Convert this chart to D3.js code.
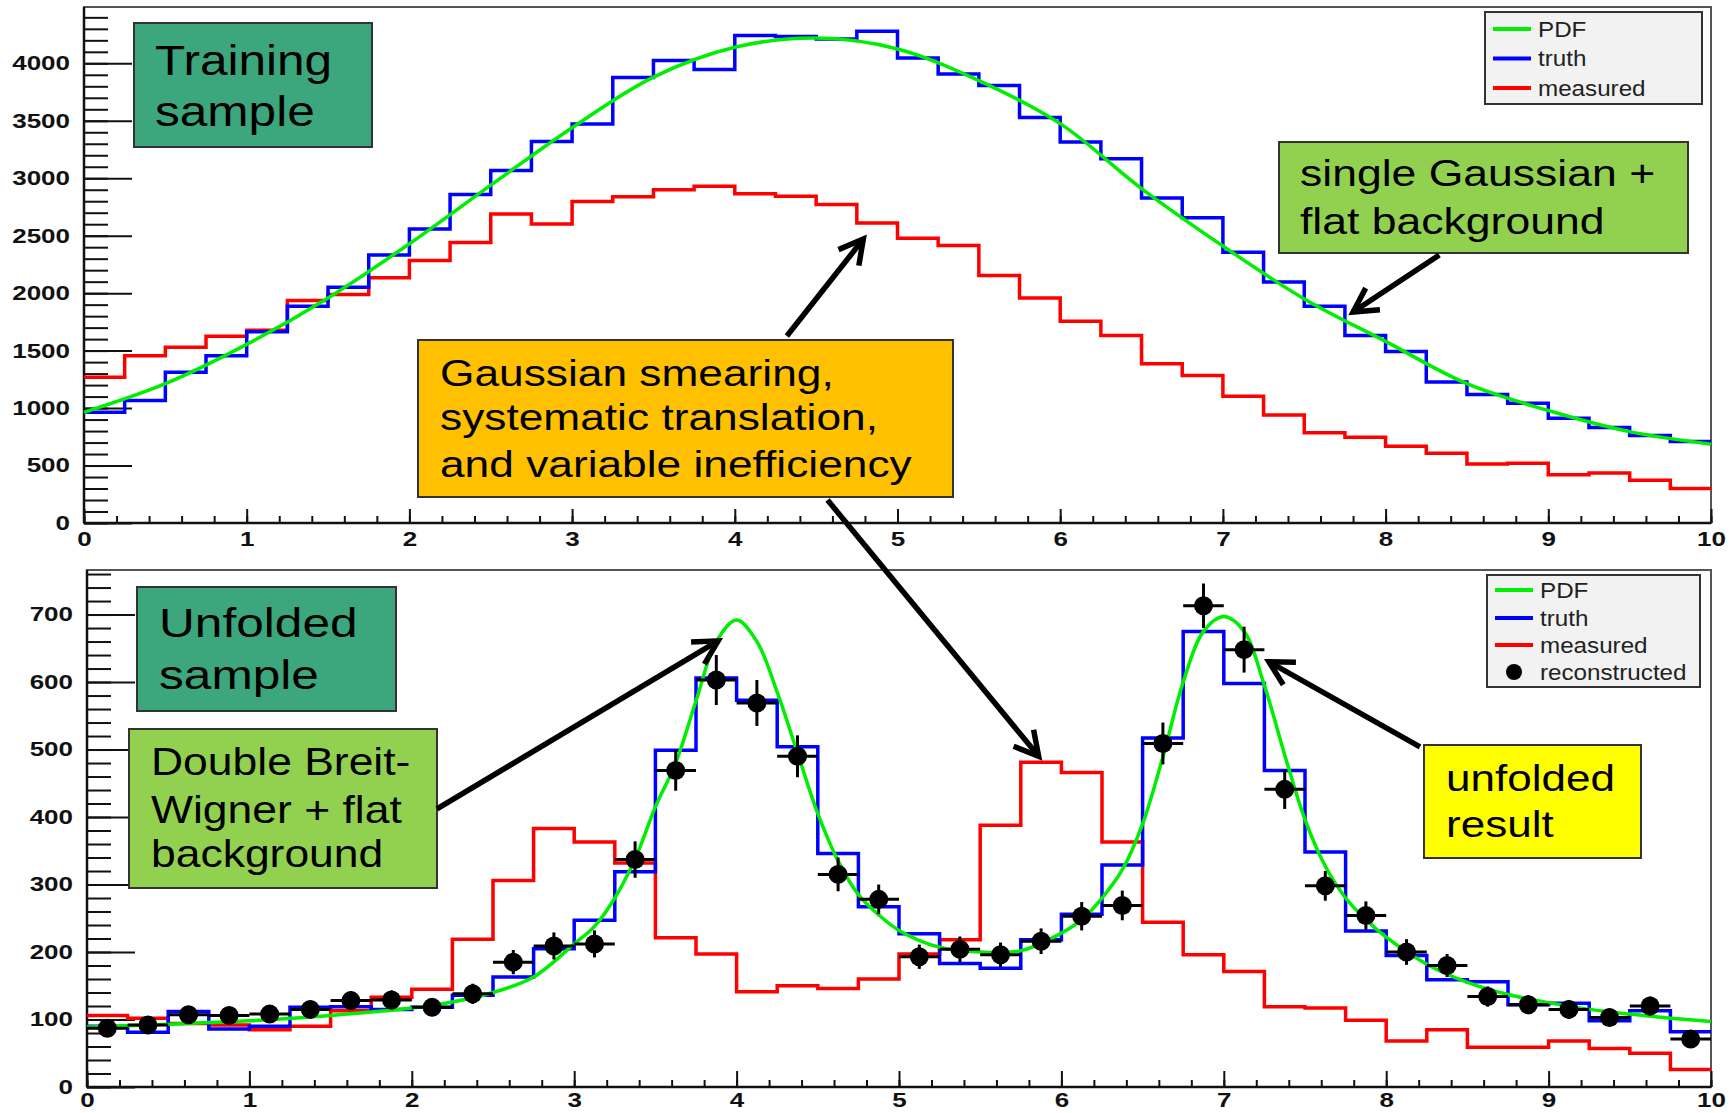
<!doctype html>
<html lang="en">
<head>
  <meta charset="utf-8">
  <style>
    body { margin: 0; background: #fff; }
    text { font-family: "Liberation Sans", Arial, sans-serif; }
  </style>
</head>
<body>
  <svg id="chart" width="1735" height="1113"></svg>
  <script src="https://d3js.org/d3.v7.min.js" charset="utf-8"></script>
  <script>
    // bins of width 0.25 on [0,10]
    var binW = 0.25;
    var xTicks = [0, 1, 2, 3, 4, 5, 6, 7, 8, 9, 10];

    // training sample (upper pad)
    var upperYTicks = [0, 500, 1000, 1500, 2000, 2500, 3000, 3500, 4000];
    var upperTruth = [963, 1066, 1311, 1455, 1665, 1887, 2051, 2331, 2558, 2859,
                      3068, 3319, 3472, 3876, 4025, 3947, 4242, 4233, 4211, 4280,
                      4047, 3907, 3807, 3528, 3316, 3170, 2828, 2657, 2356, 2098,
                      1887, 1632, 1492, 1228, 1119, 1041, 911, 830, 761, 709];
    var upperMeasured = [1268, 1455, 1529, 1625, 1678, 1936, 1989, 2135, 2284, 2440,
                         2688, 2601, 2797, 2838, 2900, 2931, 2866, 2844, 2772, 2611,
                         2477, 2415, 2154, 1958, 1756, 1632, 1386, 1284, 1103, 939,
                         786, 746, 668, 606, 513, 519, 420, 435, 373, 301];
    var upperPdfX = [0, 0.5, 1, 1.5, 2, 2.5, 3, 3.5, 4, 4.5, 5, 5.5, 6, 6.5, 7, 7.5, 8, 8.5, 9, 9.5, 10];
    var upperPdf = [963, 1212, 1554, 1958, 2430, 2940, 3440, 3880, 4140, 4220, 4125,
                    3850, 3475, 2910, 2410, 1950, 1580, 1212, 979, 795, 686];

    // unfolded sample (lower pad)
    var lowerYTicks = [0, 100, 200, 300, 400, 500, 600, 700];
    var lowerTruth = [90, 81, 112, 86, 90, 118, 119, 115, 118, 136,
                      163, 205, 247, 319, 499, 606, 573, 504, 346, 267,
                      227, 183, 176, 218, 256, 329, 517, 675, 598, 469,
                      348, 231, 195, 159, 156, 122, 124, 98, 113, 82];
    var lowerMeasured = [106, 102, 94, 92, 85, 90, 113, 133, 145, 219,
                         306, 383, 363, 332, 221, 197, 141, 150, 146, 160,
                         197, 218, 388, 481, 466, 363, 244, 196, 171, 119,
                         117, 99, 68, 85, 59, 59, 68, 57, 50, 26];
    var lowerReco = [87, 92, 107, 106, 108, 115, 128, 129, 118, 138,
                     185, 209, 212, 337, 469, 603, 569, 490, 315, 278,
                     193, 204, 196, 216, 253, 269, 509, 713, 648, 441,
                     298, 254, 200, 180, 134, 122, 115, 103, 120, 71];
    var lowerRecoErr = [12, 12, 13, 13, 13, 13, 14, 14, 13, 15,
                        18, 20, 20, 27, 30, 37, 34, 31, 25, 22,
                        18, 19, 18, 19, 21, 22, 31, 33, 34, 29,
                        22, 21, 19, 17, 15, 14, 14, 13, 14, 11];
    var lowerPdfX = [0, 0.5, 1, 1.5, 2, 2.25, 2.5, 2.75, 3, 3.125, 3.25, 3.375, 3.5, 3.625,
                     3.75, 3.875, 4, 4.125, 4.25, 4.375, 4.5, 4.625, 4.75, 4.875, 5, 5.25,
                     5.5, 5.75, 6, 6.125, 6.25, 6.375, 6.5, 6.625, 6.75, 6.875, 7, 7.125,
                     7.25, 7.375, 7.5, 7.625, 7.75, 7.875, 8, 8.25, 8.5, 8.75, 9, 9.25,
                     9.5, 9.75, 10];
    var lowerPdf = [89, 93, 98, 106, 117, 126, 140, 163, 212, 238, 280, 338, 415, 480,
                    572, 660, 692, 660, 585, 495, 405, 335, 285, 255, 232, 207,
                    200, 202, 228, 248, 280, 322, 390, 489, 600, 675, 697, 675,
                    595, 492, 396, 327, 280, 248, 222, 182, 155, 137, 125, 115,
                    108, 102, 97];

    var upperLegend = ["PDF", "truth", "measured"];
    var lowerLegend = ["PDF", "truth", "measured", "reconstructed"];
    var colors = {PDF: "#00ee00", truth: "#0000ff", measured: "#ff0000", reconstructed: "#000"};

    var svg = d3.select("#chart");
    var labelScale = 1.3;

    function drawPanel(p) {
      var x = d3.scaleLinear().domain([0, 10]).range([p.left, p.right]);
      var y = d3.scaleLinear().domain([0, p.ymax]).range([p.bottom, p.top]);

      svg.append("rect")
         .attr("x", p.left).attr("y", p.top)
         .attr("width", p.right - p.left).attr("height", p.bottom - p.top)
         .attr("fill", "#fff").attr("stroke", "#555").attr("stroke-width", 2);

      function styleAxis(g) {
        g.attr("color", "#111")
         .attr("font-family", "'Liberation Sans', Arial, sans-serif")
         .attr("font-size", 20)
         .attr("font-weight", "bold");
        g.select(".domain").remove();
        g.selectAll("line").attr("stroke-width", 2);
      }

      // y axis: minor then major ticks, pointing inward
      svg.append("g").attr("transform", "translate(" + p.left + ",0)")
         .call(d3.axisLeft(y).tickValues(d3.range(0, p.ymax, p.yMinorStep)).tickSize(-24).tickFormat(""))
         .call(styleAxis);
      var ya = svg.append("g").attr("transform", "translate(" + p.left + ",0)")
         .call(d3.axisLeft(y).tickValues(p.yTicks).tickSize(-48).tickPadding(14).tickFormat(d3.format("d")))
         .call(styleAxis);
      ya.selectAll(".tick text").attr("x", -14 / labelScale).attr("transform", "scale(" + labelScale + ",1)");

      // x axis
      svg.append("g").attr("transform", "translate(0," + p.bottom + ")")
         .call(d3.axisBottom(x).tickValues(d3.range(0, 10.01, 0.2)).tickSize(-7).tickFormat(""))
         .call(styleAxis);
      var xa = svg.append("g").attr("transform", "translate(0," + p.bottom + ")")
         .call(d3.axisBottom(x).tickValues(xTicks).tickSize(-p.xTickLen).tickPadding(p.xPad).tickFormat(d3.format("d")))
         .call(styleAxis);
      xa.selectAll(".tick text").attr("transform", "scale(" + labelScale + ",1)");

      svg.append("line").attr("x1", p.left).attr("x2", p.left).attr("y1", p.top).attr("y2", p.bottom)
         .attr("stroke", "#111").attr("stroke-width", 2.5);
      svg.append("line").attr("x1", p.left).attr("x2", p.right).attr("y1", p.bottom).attr("y2", p.bottom)
         .attr("stroke", "#111").attr("stroke-width", 2.5);

      return {x: x, y: y};
    }

    function hist(s, vals, color) {
      var pts = vals.map(function(v, i) { return [i * binW, v]; });
      pts.push([10, vals[vals.length - 1]]);
      var line = d3.line().x(function(d) { return s.x(d[0]); }).y(function(d) { return s.y(d[1]); })
                   .curve(d3.curveStepAfter);
      svg.append("path").attr("d", line(pts))
         .attr("fill", "none").attr("stroke", color).attr("stroke-width", 3.5);
    }

    function curve(s, xs, vals) {
      var line = d3.line().x(function(d, i) { return s.x(xs[i]); }).y(function(d) { return s.y(d); })
                   .curve(d3.curveCatmullRom.alpha(0.5));
      svg.append("path").attr("d", line(vals))
         .attr("fill", "none").attr("stroke", colors.PDF).attr("stroke-width", 3.5);
    }

    function legend(lx, ly, w, h, ys, names) {
      svg.append("rect").attr("x", lx).attr("y", ly).attr("width", w).attr("height", h)
         .attr("fill", "#f2f2f2").attr("stroke", "#333").attr("stroke-width", 2);
      names.forEach(function(n, i) {
        if (n === "reconstructed") {
          svg.append("circle").attr("cx", lx + 27).attr("cy", ys[i]).attr("r", 8).attr("fill", "#000");
        } else {
          svg.append("line").attr("x1", lx + 8).attr("x2", lx + 46).attr("y1", ys[i]).attr("y2", ys[i])
             .attr("stroke", colors[n]).attr("stroke-width", 4);
        }
        svg.append("text").attr("transform", "translate(" + (lx + 53) + "," + ys[i] + ") scale(1.1,1)")
           .attr("dy", "0.36em").attr("font-size", 22).attr("fill", "#222").text(n);
      });
    }

    function box(b) {
      svg.append("rect").attr("x", b.x).attr("y", b.y).attr("width", b.w).attr("height", b.h)
         .attr("fill", b.fill).attr("stroke", "#333").attr("stroke-width", 2);
      b.lines.forEach(function(t, i) {
        svg.append("text").attr("transform", "translate(" + b.tx + "," + b.base[i] + ") scale(" + b.sx + ",1)")
           .attr("font-size", b.size).attr("fill", "#000").text(t);
      });
    }

    function arrow(p1, p2) {
      var a = Math.atan2(p2[1] - p1[1], p2[0] - p1[0]), L = 27, phi = 0.5;
      svg.append("line").attr("x1", p1[0]).attr("y1", p1[1]).attr("x2", p2[0]).attr("y2", p2[1])
         .attr("stroke", "#000").attr("stroke-width", 5.5);
      svg.append("path")
         .attr("d", "M" + (p2[0] - L * Math.cos(a - phi)) + "," + (p2[1] - L * Math.sin(a - phi)) +
                    "L" + p2[0] + "," + p2[1] +
                    "L" + (p2[0] - L * Math.cos(a + phi)) + "," + (p2[1] - L * Math.sin(a + phi)))
         .attr("fill", "none").attr("stroke", "#000").attr("stroke-width", 5.5);
    }

    // upper pad
    var up = drawPanel({left: 84, right: 1711, top: 7, bottom: 523, ymax: 4490,
                        yTicks: upperYTicks, yMinorStep: 100, xTickLen: 14, xPad: 9});
    hist(up, upperMeasured, colors.measured);
    hist(up, upperTruth, colors.truth);
    curve(up, upperPdfX, upperPdf);

    // lower pad
    var lo = drawPanel({left: 87, right: 1711, top: 570, bottom: 1087, ymax: 766,
                        yTicks: lowerYTicks, yMinorStep: 20, xTickLen: 16, xPad: 6});
    hist(lo, lowerMeasured, colors.measured);
    hist(lo, lowerTruth, colors.truth);
    curve(lo, lowerPdfX, lowerPdf);

    var reco = svg.append("g");
    lowerReco.forEach(function(v, i) {
      var cx = lo.x((i + 0.5) * binW), cy = lo.y(v);
      reco.append("line").attr("x1", lo.x(i * binW)).attr("x2", lo.x((i + 1) * binW))
          .attr("y1", cy).attr("y2", cy).attr("stroke", "#000").attr("stroke-width", 3);
      reco.append("line").attr("x1", cx).attr("x2", cx)
          .attr("y1", lo.y(v - lowerRecoErr[i])).attr("y2", lo.y(v + lowerRecoErr[i]))
          .attr("stroke", "#000").attr("stroke-width", 3);
      reco.append("circle").attr("cx", cx).attr("cy", cy).attr("r", 9.5).attr("fill", "#000");
    });

    legend(1485, 12, 217, 92, [29, 58.5, 88], upperLegend);
    legend(1487, 575, 213, 112, [590, 618, 645, 672], lowerLegend);

    // annotation panes
    var boxes = [
      {x: 134, y: 23, w: 238, h: 124, fill: "#3ca67c", tx: 155, base: [75, 126], size: 42, sx: 1.18,
       lines: ["Training", "sample"]},
      {x: 418, y: 340, w: 535, h: 157, fill: "#ffc000", tx: 440, base: [386, 430, 477], size: 36, sx: 1.23,
       lines: ["Gaussian smearing,", "systematic translation,", "and variable inefficiency"]},
      {x: 1279, y: 142, w: 409, h: 111, fill: "#92d050", tx: 1300, base: [186, 234], size: 36.5, sx: 1.22,
       lines: ["single Gaussian +", "flat background"]},
      {x: 137, y: 587, w: 259, h: 124, fill: "#3ca67c", tx: 159, base: [637, 689], size: 41, sx: 1.21,
       lines: ["Unfolded", "sample"]},
      {x: 129, y: 729, w: 308, h: 159, fill: "#92d050", tx: 151, base: [775, 823, 867], size: 38, sx: 1.17,
       lines: ["Double Breit-", "Wigner + flat", "background"]},
      {x: 1424, y: 745, w: 217, h: 113, fill: "#ffff00", tx: 1446, base: [791, 837], size: 37, sx: 1.19,
       lines: ["unfolded", "result"]}
    ];
    boxes.forEach(box);

    function pt(s, d) { return [s.x(d[0]), s.y(d[1])]; }
    arrow(pt(up, [4.32, 1627]), pt(up, [4.79, 2471]));
    arrow(pt(up, [8.33, 2332]), pt(up, [7.80, 1836]));
    arrow(pt(up, [4.57, 200]), pt(lo, [5.86, 490]));
    arrow(pt(lo, [2.155, 412]), pt(lo, [3.886, 661]));
    arrow(pt(lo, [8.208, 504]), pt(lo, [7.278, 630]));
  </script>
</body>
</html>
